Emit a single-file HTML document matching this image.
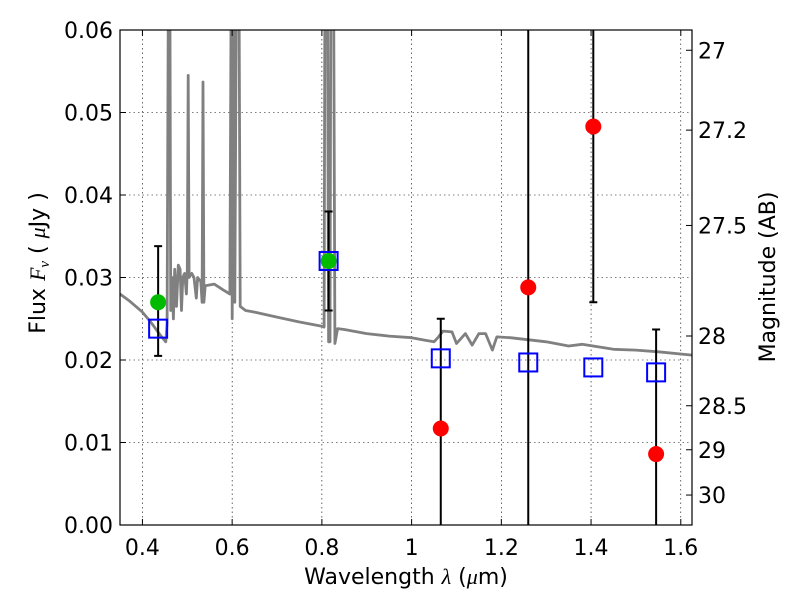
<!DOCTYPE html>
<html><head><meta charset="utf-8"><style>
body{margin:0;background:#fff;}
svg{display:block;font-family:"DejaVu Sans","Liberation Sans",sans-serif;}
</style></head><body>
<svg id="c" width="800" height="600" xmlns="http://www.w3.org/2000/svg">
<defs><clipPath id="clip"><rect x="120" y="30" width="572" height="495"/></clipPath></defs>
<rect x="0" y="0" width="800" height="600" fill="#fff"/>
<g id="grid"></g>
<g id="spec" clip-path="url(#clip)"></g>
<g id="marks" clip-path="url(#clip)"></g>
<rect x="120" y="30" width="572" height="495" fill="none" stroke="#000" stroke-width="1.2"/>
<g id="axes"></g>
<text x="406" y="584" font-size="22" text-anchor="middle">Wavelength  <tspan font-family="Liberation Serif,serif" font-style="italic">λ</tspan> (<tspan font-family="Liberation Serif,serif" font-style="italic">μ</tspan>m)</text>
<text transform="translate(45,263) rotate(-90)" font-size="22" text-anchor="middle">Flux  <tspan font-family="Liberation Serif,serif" font-style="italic">F<tspan font-size="15" dy="4">ν</tspan></tspan><tspan dy="-4">  ( </tspan><tspan font-family="Liberation Serif,serif" font-style="italic">μ</tspan>Jy )</text>
<text transform="translate(775,277) rotate(-90)" font-size="22" text-anchor="middle">Magnitude (AB)</text>
</svg>
<script>
const xTicks=[0.4,0.6,0.8,1.0,1.2,1.4,1.6];
const xTickLabels=["0.4","0.6","0.8","1","1.2","1.4","1.6"];
const yTicks=[0,0.01,0.02,0.03,0.04,0.05,0.06];
const yTickLabels=["0.00","0.01","0.02","0.03","0.04","0.05","0.06"];
const magTicks=[27,27.2,27.5,28,28.5,29,30];
const magTickLabels=["27","27.2","27.5","28","28.5","29","30"];
const specWave=[0.35,0.37,0.40,0.42,0.44,0.452,0.455,0.458,0.461,0.463,0.466,0.469,0.472,0.476,0.48,0.484,0.487,0.49,0.494,0.498,0.500,0.502,0.504,0.51,0.515,0.52,0.523,0.53,0.533,0.535,0.537,0.54,0.56,0.58,0.595,0.598,0.600,0.603,0.606,0.61,0.615,0.618,0.63,0.65,0.7,0.75,0.80,0.805,0.807,0.812,0.815,0.818,0.82,0.826,0.829,0.835,0.85,0.9,0.95,1.0,1.03,1.05,1.06,1.07,1.09,1.10,1.12,1.135,1.15,1.165,1.18,1.19,1.22,1.3,1.35,1.38,1.45,1.5,1.55,1.625];
const specFlux=[0.0280,0.0272,0.0258,0.0245,0.0230,0.0222,0.0245,0.07,0.07,0.026,0.030,0.025,0.031,0.0265,0.0315,0.031,0.026,0.030,0.0305,0.028,0.031,0.0545,0.030,0.0305,0.030,0.0275,0.030,0.0295,0.027,0.0537,0.027,0.029,0.0292,0.0285,0.028,0.07,0.025,0.07,0.027,0.07,0.07,0.0265,0.026,0.0258,0.0252,0.0246,0.0241,0.024,0.07,0.07,0.0222,0.0222,0.07,0.07,0.022,0.0238,0.0237,0.0232,0.0229,0.0227,0.0224,0.0222,0.0228,0.0235,0.0234,0.0220,0.0232,0.0218,0.0232,0.0232,0.0212,0.0228,0.0227,0.0222,0.0217,0.0219,0.0213,0.0212,0.0210,0.0206];
const obsWave=[0.435,0.815];
const obsFlux=[0.027,0.032];
const obsLo=[0.0205,0.026];
const obsHi=[0.0338,0.038];
const modWave=[0.435,0.815,1.065,1.26,1.405,1.545];
const modFlux=[0.0238,0.032,0.0202,0.0197,0.0191,0.0185];
const limWave=[1.065,1.26,1.405,1.545];
const limFlux=[0.0117,0.0288,0.0483,0.0086];
const limLo=[-0.01,-0.01,0.027,-0.01];
const limHi=[0.025,0.09,0.09,0.0237];

const X=v=>120+(v-0.35)/(1.625-0.35)*572;
const Y=v=>525-v/0.06*495;
const M=m=>Math.pow(10,-0.4*(m-23.9));
const NS="http://www.w3.org/2000/svg";
function mk(parent,tag,attrs){const e=document.createElementNS(NS,tag);for(const k in attrs)e.setAttribute(k,attrs[k]);document.getElementById(parent).appendChild(e);return e;}

xTicks.forEach((t,i)=>{
 const x=X(t);
 const g=mk('grid','line',{x1:x,x2:x,y1:30,y2:525,stroke:'#000','stroke-width':0.6,'stroke-dasharray':'1.5,3'});
 
 
 const a=mk('axes','line',{x1:x,x2:x,y1:525,y2:519,stroke:'#000'});
 
 
 const b=mk('axes','line',{x1:x,x2:x,y1:30,y2:36,stroke:'#000'});
 
 
 const l=mk('axes','text',{x:x,y:555,'font-size':22,'text-anchor':'middle'});
 l.textContent=xTickLabels[i];
 
 
});
yTicks.forEach((t,i)=>{
 const y=Y(t);
 const g=mk('grid','line',{x1:120,x2:692,y1:y,y2:y,stroke:'#000','stroke-width':0.6,'stroke-dasharray':'1.5,3'});
 
 
 const a=mk('axes','line',{x1:120,x2:126,y1:y,y2:y,stroke:'#000'});
 
 
 const l=mk('axes','text',{x:113,y:y+8,'font-size':22,'text-anchor':'end'});
 l.textContent=yTickLabels[i];
 
 
});
magTicks.forEach((m,i)=>{
 const y=Y(M(m));
 const a=mk('axes','line',{x1:686,x2:692,y1:y,y2:y,stroke:'#000'});
 
 
 const l=mk('axes','text',{x:698,y:y+8,'font-size':22,'text-anchor':'start'});
 l.textContent=magTickLabels[i];
 
 
});
const d=specWave.map((w,i)=>(i?'L':'M')+X(w).toFixed(1)+','+Y(specFlux[i]).toFixed(1)).join('');
const sp=mk('spec','path',{d:d,fill:'none',stroke:'#808080','stroke-width':2.8,'stroke-linejoin':'round'});



function errbar(x,lo,hi){
 const e=mk('marks','line',{x1:X(x),x2:X(x),y1:Y(lo),y2:Y(hi),stroke:'#000','stroke-width':2});
 
 
 [lo,hi].forEach(v=>{if(v>0&&v<0.06){const c=mk('marks','line',{x1:X(x)-4,x2:X(x)+4,y1:Y(v),y2:Y(v),stroke:'#000','stroke-width':2});
 
 }});
}
limWave.forEach((w,i)=>errbar(w,limLo[i],limHi[i]));
obsWave.forEach((w,i)=>errbar(w,obsLo[i],obsHi[i]));
modWave.forEach((w,i)=>{
 const r=mk('marks','rect',{x:X(w)-9,y:Y(modFlux[i])-9,width:18,height:18,fill:'none',stroke:'#0000ff','stroke-width':2});
 
 
});
obsWave.forEach((w,i)=>{
 const c=mk('marks','circle',{cx:X(w),cy:Y(obsFlux[i]),r:8,fill:'#00bb00'});
 
 
});
limWave.forEach((w,i)=>{
 const c=mk('marks','circle',{cx:X(w),cy:Y(limFlux[i]),r:8,fill:'#ff0000'});
 
 
});
</script>
</body></html>
